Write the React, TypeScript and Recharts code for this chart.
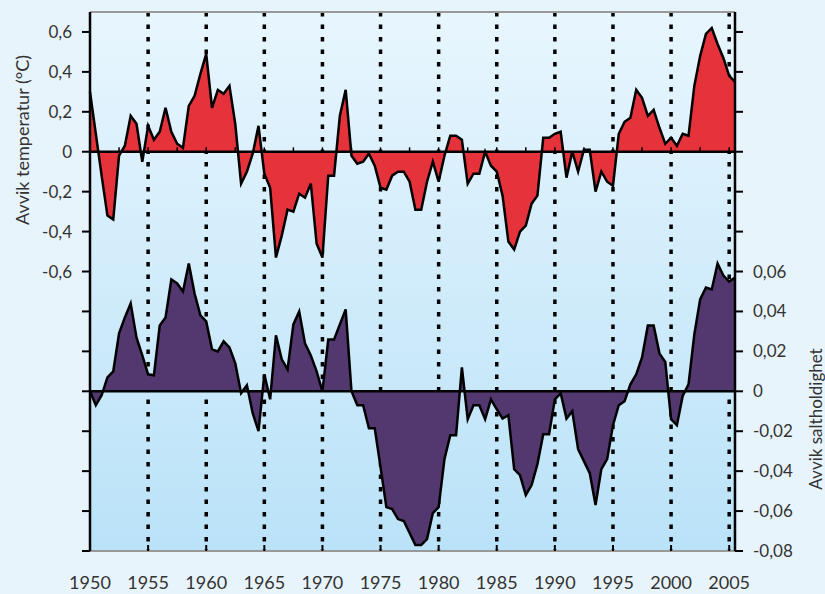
import { AreaChart, Area, XAxis, YAxis, CartesianGrid, ReferenceLine } from 'recharts';

// semiannual anomalies, 1950.0 – 2005.5
const temperature = [
  0.3, 0.09, -0.12, -0.32, -0.34, -0.02, 0.03, 0.18, 0.14, -0.05,
  0.13, 0.06, 0.1, 0.22, 0.1, 0.04, 0.02, 0.23, 0.28, 0.39,
  0.49, 0.22, 0.31, 0.29, 0.33, 0.14, -0.16, -0.1, -0.01, 0.13,
  -0.11, -0.18, -0.53, -0.42, -0.29, -0.3, -0.21, -0.23, -0.16, -0.46,
  -0.53, -0.12, -0.12, 0.18, 0.31, -0.02, -0.06, -0.05, -0.01, -0.07,
  -0.18, -0.19, -0.12, -0.1, -0.1, -0.15, -0.29, -0.29, -0.15, -0.05,
  -0.15, -0.02, 0.08, 0.08, 0.06, -0.16, -0.11, -0.11, 0.0, -0.07,
  -0.1, -0.22, -0.45, -0.49, -0.4, -0.37, -0.26, -0.22, 0.07, 0.07,
  0.09, 0.1, -0.13, 0.0, -0.1, 0.01, 0.01, -0.2, -0.1, -0.15,
  -0.17, 0.09, 0.15, 0.17, 0.31, 0.27, 0.18, 0.21, 0.12, 0.04,
  0.07, 0.03, 0.09, 0.08, 0.33, 0.48, 0.59, 0.62, 0.54, 0.47,
  0.38, 0.35,
];

const salinity = [
  0.0, -0.007, -0.002, 0.007, 0.01, 0.029, 0.037, 0.044, 0.027, 0.018,
  0.0085, 0.008, 0.033, 0.037, 0.056, 0.054, 0.05, 0.064, 0.049, 0.038,
  0.035, 0.021, 0.02, 0.025, 0.022, 0.014, -0.001, 0.003, -0.011, -0.02,
  0.0085, -0.004, 0.028, 0.016, 0.011, 0.0335, 0.04, 0.024, 0.018, 0.01,
  0.0, 0.026, 0.026, 0.0335, 0.041, 0.0, -0.007, -0.007, -0.0185, -0.0185,
  -0.038, -0.058, -0.059, -0.064, -0.065, -0.071, -0.077, -0.077, -0.074, -0.061,
  -0.058, -0.034, -0.022, -0.022, 0.012, -0.014, -0.007, -0.007, -0.014, -0.004,
  -0.009, -0.0137, -0.012, -0.039, -0.042, -0.052, -0.047, -0.0365, -0.0215, -0.0215,
  -0.004, -0.001, -0.0137, -0.01, -0.029, -0.035, -0.041, -0.057, -0.039, -0.034,
  -0.017, -0.007, -0.005, 0.0035, 0.0085, 0.017, 0.033, 0.033, 0.019, 0.0147,
  -0.014, -0.017, -0.0023, 0.0035, 0.0285, 0.046, 0.052, 0.051, 0.064, 0.058,
  0.055, 0.057,
];

const yearTicks = [1950, 1955, 1960, 1965, 1970, 1975, 1980, 1985, 1990, 1995, 2000, 2005];
const dottedYears = [1955, 1960, 1965, 1970, 1975, 1980, 1985, 1990, 1995, 2000, 2005];
const minorTickYears = [
  1952.5, 1955, 1957.5, 1960, 1962.5, 1965, 1967.5, 1970, 1972.5, 1975, 1977.5,
  1980, 1982.5, 1985, 1987.5, 1990, 1992.5, 1995, 1997.5, 2000, 2002.5, 2005,
];
const tempTicks = [0.6, 0.4, 0.2, 0, -0.2, -0.4, -0.6, -0.8, -1.0, -1.2, -1.4, -1.6, -1.8, -2.0];
const saltTicks = [0.18, 0.16, 0.14, 0.12, 0.1, 0.08, 0.06, 0.04, 0.02, 0, -0.02, -0.04, -0.06, -0.08];

const xDomain = [1950, 2005.5];
const data = temperature.map((t, i) => ({ year: 1950 + i * 0.5, t, s: salinity[i] }));

const font = 'Lato, "Open Sans", sans-serif';
const textColor = '#333';

const fmtTemp = (v: number) => {
  if (v < -0.61) return '';
  return v === 0 ? '0' : v.toFixed(1).replace('.', ',');
};
const fmtSalt = (v: number) => {
  if (v > 0.061) return '';
  return v === 0 ? '0' : v.toFixed(2).replace('.', ',');
};

const dottedLines = ({ xAxis, offset }: any) =>
  dottedYears.map((yr) =>
    xAxis && typeof xAxis.scale === 'function'
      ? xAxis.scale(yr)
      : offset.left + ((yr - xDomain[0]) / (xDomain[1] - xDomain[0])) * offset.width
  );

export default function App() {
  return (
    <div style={{ position: 'absolute', left: 0, top: 0, width: 825, height: 594, background: '#e8f4fc', fontFamily: font }}>
      <AreaChart width={825} height={594} data={data} margin={{ top: 12, right: 0, bottom: 0, left: 0 }}>
        <defs>
          <linearGradient id="bg" x1="0" y1="0" x2="0" y2="1">
            <stop offset="0%" stopColor="#e8f6fe" />
            <stop offset="100%" stopColor="#bae2f8" />
          </linearGradient>
        </defs>
        <CartesianGrid
          yAxisId="t"
          horizontal={false}
          vertical
          verticalCoordinatesGenerator={dottedLines}
          fill="url(#bg)"
          stroke="#000"
          strokeWidth={3.5}
          strokeDasharray="4.5 8"
        />
        <XAxis
          dataKey="year"
          type="number"
          domain={xDomain}
          ticks={yearTicks}
          interval={0}
          height={43}
          axisLine={{ stroke: '#999', strokeWidth: 2 }}
          tickLine={{ stroke: '#000', strokeWidth: 2 }}
          tickSize={-6}
          tickMargin={31}
          tick={{ fill: textColor, fontSize: 18, fontFamily: font }}
        />
        <YAxis
          yAxisId="t"
          orientation="left"
          width={90}
          type="number"
          domain={[-2.0, 0.7]}
          ticks={tempTicks}
          interval={0}
          tickFormatter={fmtTemp}
          tickSize={8}
          tickMargin={10}
          axisLine={{ stroke: '#000', strokeWidth: 2.5 }}
          tickLine={{ stroke: '#000', strokeWidth: 2 }}
          tick={{ fill: textColor, fontSize: 17, fontFamily: font }}
        />
        <YAxis
          yAxisId="s"
          orientation="right"
          width={90}
          type="number"
          domain={[-0.08, 0.19]}
          ticks={saltTicks}
          interval={0}
          tickFormatter={fmtSalt}
          tickSize={8}
          tickMargin={10}
          axisLine={{ stroke: '#000', strokeWidth: 2.5 }}
          tickLine={{ stroke: '#000', strokeWidth: 2 }}
          tick={{ fill: textColor, fontSize: 17, fontFamily: font }}
        />
        <Area
          yAxisId="t"
          type="linear"
          dataKey="t"
          baseValue={0}
          fill="#e5323b"
          fillOpacity={1}
          stroke="#000"
          strokeWidth={2.5}
          isAnimationActive={false}
        />
        <Area
          yAxisId="s"
          type="linear"
          dataKey="s"
          baseValue={0}
          fill="#52386e"
          fillOpacity={1}
          stroke="#000"
          strokeWidth={2.5}
          isAnimationActive={false}
        />
        <ReferenceLine yAxisId="t" y={0.7} stroke="#999" strokeWidth={2} />
        <ReferenceLine yAxisId="t" y={0} stroke="#000" strokeWidth={2.5} />
        <ReferenceLine yAxisId="s" y={0} stroke="#000" strokeWidth={2.5} />
        {minorTickYears.map((yr) => (
          <ReferenceLine
            key={yr}
            yAxisId="t"
            segment={[{ x: yr, y: 0 }, { x: yr, y: 0.022 }]}
            stroke="#000"
            strokeWidth={1.5}
          />
        ))}
      </AreaChart>
      <div
        style={{
          position: 'absolute',
          left: 22,
          top: 140,
          transform: 'translate(-50%, -50%) rotate(-90deg)',
          whiteSpace: 'nowrap',
          fontSize: 18,
          color: textColor,
        }}
      >
        Avvik temperatur (°C)
      </div>
      <div
        style={{
          position: 'absolute',
          left: 815,
          top: 419,
          transform: 'translate(-50%, -50%) rotate(-90deg)',
          whiteSpace: 'nowrap',
          fontSize: 17,
          color: textColor,
        }}
      >
        Avvik saltholdighet
      </div>
    </div>
  );
}
